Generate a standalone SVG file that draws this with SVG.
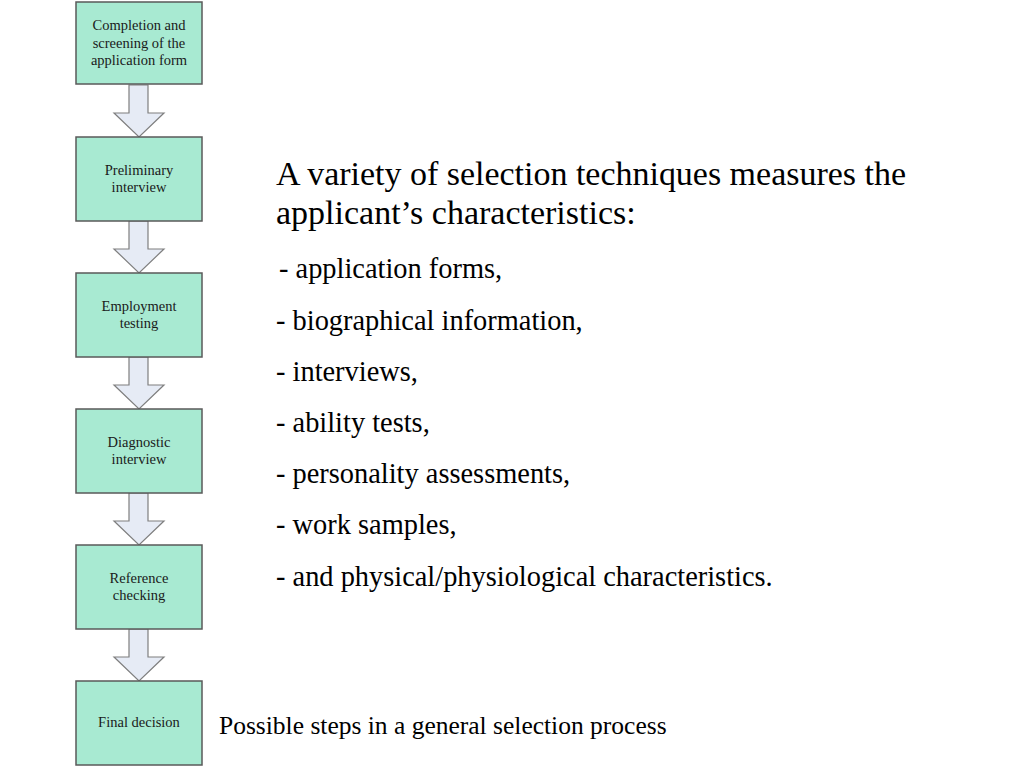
<svg xmlns="http://www.w3.org/2000/svg" width="1024" height="768" viewBox="0 0 1024 768">
<style>
.box{fill:#a8ead2;stroke:#5a5a5a;stroke-width:1.5}
.bt{font-family:"Liberation Serif",serif;font-size:14.5px;fill:#1a1a1a;text-anchor:middle}
.arr{fill:#e6ebf5;stroke:#7f7f7f;stroke-width:1.2}
.main{font-family:"Liberation Serif",serif;font-size:34px;fill:#000}
.li{font-family:"Liberation Serif",serif;font-size:28.4px;fill:#000}
.cap{font-family:"Liberation Serif",serif;font-size:25.5px;fill:#000}
</style>
<rect width="1024" height="768" fill="#fff"/>
<g id="connectors">
<path class="arr" d="M129,85 H148 V113 H164 L139,137 L114,113 H129 Z"/>
<path class="arr" d="M129,221 H148 V249 H164 L139,273 L114,249 H129 Z"/>
<path class="arr" d="M129,357 H148 V385 H164 L139,409 L114,385 H129 Z"/>
<path class="arr" d="M129,493 H148 V521 H164 L139,545 L114,521 H129 Z"/>
<path class="arr" d="M129,629 H148 V657 H164 L139,681 L114,657 H129 Z"/>
</g>
<g id="n1"><rect class="box" x="76" y="2" width="126" height="82"/>
<text class="bt" x="139" y="30">Completion and</text><text class="bt" x="139" y="48">screening of the</text><text class="bt" x="139" y="65">application form</text></g>
<g id="n2"><rect class="box" x="76" y="137" width="126" height="84"/>
<text class="bt" x="139" y="175">Preliminary</text><text class="bt" x="139" y="192">interview</text></g>
<g id="n3"><rect class="box" x="76" y="273" width="126" height="84"/>
<text class="bt" x="139" y="311">Employment</text><text class="bt" x="139" y="328">testing</text></g>
<g id="n4"><rect class="box" x="76" y="409" width="126" height="84"/>
<text class="bt" x="139" y="447">Diagnostic</text><text class="bt" x="139" y="464">interview</text></g>
<g id="n5"><rect class="box" x="76" y="545" width="126" height="84"/>
<text class="bt" x="139" y="583">Reference</text><text class="bt" x="139" y="600">checking</text></g>
<g id="n6"><rect class="box" x="76" y="681" width="126" height="84"/>
<text class="bt" x="139" y="727">Final decision</text></g>
<g id="text">
<text class="main" x="276" y="185" textLength="630" lengthAdjust="spacing">A variety of selection techniques measures the</text>
<text class="main" x="276" y="224">applicant’s characteristics:</text>
<text class="li" x="279" y="278">- application forms,</text>
<text class="li" x="276" y="330">- biographical information,</text>
<text class="li" x="276" y="381">- interviews,</text>
<text class="li" x="276" y="432">- ability tests,</text>
<text class="li" x="276" y="483">- personality assessments,</text>
<text class="li" x="276" y="534">- work samples,</text>
<text class="li" x="276" y="586">- and physical/physiological characteristics.</text>
<text class="cap" x="219" y="734">Possible steps in a general selection process</text>
</g>
</svg>
